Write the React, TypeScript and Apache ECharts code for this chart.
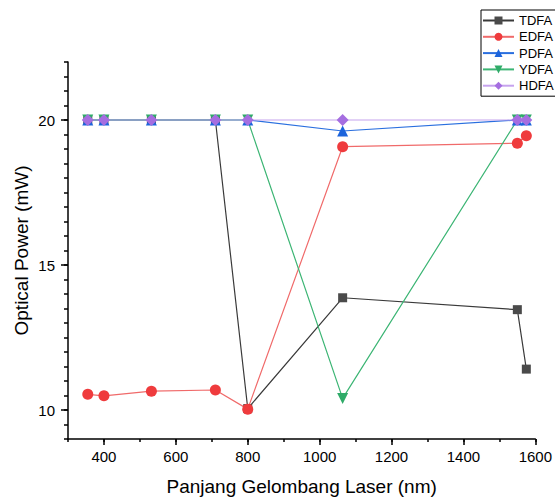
import React, { useEffect, useRef } from 'react';
import * as echarts from 'echarts';

const wavelengths = [355, 400, 532, 710, 800, 1064, 1550, 1575];
const tdfa = [20, 20, 20, 20, 10.05, 13.87, 13.46, 11.41];
const edfa = [10.54, 10.49, 10.65, 10.69, 10.03, 19.08, 19.2, 19.46];
const pdfa = [20, 20, 20, 20, 20, 19.62, 20, 20];
const ydfa = [20, 20, 20, 20, 20, 10.4, 20, 20];
const hdfa = [20, 20, 20, 20, 20, 20, 20, 20];
const xMajorTicks = [400, 600, 800, 1000, 1200, 1400, 1600];
const yMajorTicks = [10, 15, 20];

const FONT = '"Liberation Sans", Arial, sans-serif';

function pts(vals: number[]) {
  return wavelengths.map((x, i) => [x, vals[i]]);
}

export default function App() {
  const ref = useRef<HTMLDivElement>(null);
  useEffect(() => {
    if (!ref.current) return;
    const chart = echarts.init(ref.current, undefined, { renderer: 'svg' });
    const axisLine = { show: true, lineStyle: { color: '#000', width: 1.5 } };
    const mk = (name: string, vals: number[], symbol: string, size: number, mColor: string, lColor: string, rotate = 0) => ({
      name,
      type: 'line',
      data: pts(vals),
      symbol,
      symbolSize: size,
      symbolRotate: rotate,
      itemStyle: { color: mColor },
      lineStyle: { color: lColor, width: 1.2 },
      emphasis: { disabled: true },
    });
    chart.setOption({
      animation: false,
      textStyle: { fontFamily: FONT },
      grid: { left: 68, right: 18, top: 62, bottom: 61 },
      legend: {
        orient: 'vertical',
        left: 481,
        top: 10,
        padding: [4, 3, 4, 1],
        itemGap: 3.3,
        itemWidth: 31,
        itemHeight: 10,
        borderColor: '#000',
        borderWidth: 1,
        textStyle: { fontSize: 13, color: '#000', fontFamily: FONT, lineHeight: 13 },
        data: ['TDFA', 'EDFA', 'PDFA', 'YDFA', 'HDFA'],
      },
      xAxis: [
        {
          type: 'value',
          min: 300,
          max: 1600,
          axisLine,
          axisTick: { show: true, customValues: xMajorTicks, length: 6, lineStyle: { color: '#000', width: 1.5 } },
          axisLabel: {
            customValues: xMajorTicks,
            fontSize: 15,
            color: '#000',
            margin: 10,
            fontFamily: FONT,
            formatter: (v: number) => String(v),
          },
          splitLine: { show: false },
          name: 'Panjang Gelombang Laser (nm)',
          nameLocation: 'middle',
          nameGap: 38,
          nameTextStyle: { fontSize: 19, color: '#000', fontFamily: FONT },
        },
        {
          type: 'value',
          min: 300,
          max: 1600,
          interval: 100,
          position: 'bottom',
          axisLine: { show: false },
          axisTick: { show: true, length: 3, lineStyle: { color: '#000', width: 1.5 } },
          axisLabel: { show: false },
          splitLine: { show: false },
        },
      ],
      yAxis: [
        {
          type: 'value',
          min: 9,
          max: 22,
          axisLine,
          axisTick: { show: true, customValues: yMajorTicks, length: 7, lineStyle: { color: '#000', width: 1.5 } },
          axisLabel: {
            customValues: yMajorTicks,
            fontSize: 15,
            color: '#000',
            margin: 13,
            fontFamily: FONT,
            formatter: (v: number) => String(v),
          },
          splitLine: { show: false },
          name: 'Optical Power (mW)',
          nameLocation: 'middle',
          nameRotate: 90,
          nameGap: 37,
          nameMoveOverlap: false,
          nameTextStyle: { fontSize: 19, color: '#000', fontFamily: FONT },
        },
        {
          type: 'value',
          min: 9,
          max: 22,
          interval: 0.5,
          position: 'left',
          axisLine: { show: false },
          axisTick: { show: true, length: 4, lineStyle: { color: '#000', width: 1.5 } },
          axisLabel: { show: false },
          splitLine: { show: false },
        },
      ],
      series: [
        mk('TDFA', tdfa, 'rect', 9, '#4a4a4a', '#3a3a3a'),
        mk('EDFA', edfa, 'circle', 11, '#ef3b3d', '#f06a6a'),
        mk('PDFA', pdfa, 'triangle', 11, '#1c64dc', '#2a6fdf'),
        mk('YDFA', ydfa, 'triangle', 11, '#2fab68', '#3cb574', 180),
        mk('HDFA', hdfa, 'diamond', 12, '#a56ee0', '#c6a3ee'),
      ],
    });
    return () => chart.dispose();
  }, []);
  return <div ref={ref} style={{ position: 'absolute', left: 0, top: 0, width: 555, height: 501 }} />;
}
